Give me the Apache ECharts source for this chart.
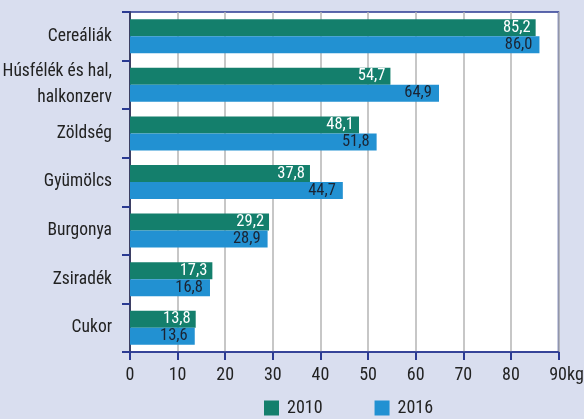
<!DOCTYPE html>
<html>
<head>
<meta charset="utf-8">
<script src="https://cdn.jsdelivr.net/npm/echarts@6/dist/echarts.min.js"></script>
<style>
  html, body { margin: 0; padding: 0; background: #d9deef; }
  #chart { width: 584px; height: 419px; }
</style>
</head>
<body>
<div id="chart"></div>
<script>
var categories = ['Cereáliák', 'Húsfélék és hal,\nhalkonzerv', 'Zöldség', 'Gyümölcs', 'Burgonya', 'Zsiradék', 'Cukor'];
var years = ['2010', '2016'];
var values2010 = [85.2, 54.7, 48.1, 37.8, 29.2, 17.3, 13.8];
var values2016 = [86.0, 64.9, 51.8, 44.7, 28.9, 16.8, 13.6];
var xTicks = [0, 10, 20, 30, 40, 50, 60, 70, 80, 90];

var font = "'Roboto Condensed', 'Liberation Sans Narrow', sans-serif";
var weight = 'normal';
var navy = '#2b3a92';

var myChart = echarts.init(document.getElementById('chart'));

function fmt(p) {
    return p.value.toFixed(1).replace('.', ',');
}

var option = {
    backgroundColor: '#d9deef',
    textStyle: { fontFamily: font, fontWeight: weight },
    grid: {
        left: 130,
        right: 25.5,
        top: 12,
        bottom: 67,
        outerBoundsMode: 'none',
        containLabel: false,
        show: true,
        backgroundColor: '#fff',
        borderColor: navy,
        borderWidth: 1.5
    },
    legend: {
        data: years,
        top: 394,
        left: 259,
        itemWidth: 15,
        itemHeight: 15,
        itemGap: 52,
        icon: 'rect',
        textStyle: { fontFamily: font, fontWeight: weight, fontSize: 18, color: '#222', padding: [0, 0, 0, 3] }
    },
    xAxis: {
        type: 'value',
        min: xTicks[0],
        max: xTicks[xTicks.length - 1],
        interval: 10,
        axisLine: { show: true, lineStyle: { color: navy, width: 1.5 } },
        axisTick: { show: true, length: 8, lineStyle: { color: navy, width: 2 } },
        splitLine: { show: true, lineStyle: { color: '#b5b5b5', width: 1.5 } },
        axisLabel: {
            margin: 14,
            fontFamily: font,
            fontWeight: weight,
            fontSize: 18,
            color: '#222',
            formatter: function (v) {
                if (v === 90) return '{s|}90kg';
                return String(v);
            },
            rich: { s: { width: 16 } }
        }
    },
    yAxis: {
        type: 'category',
        inverse: true,
        data: categories,
        axisLine: { show: true, lineStyle: { color: '#1c1f4a', width: 1.5 } },
        axisTick: { show: true, length: 8, lineStyle: { color: navy, width: 2 } },
        axisLabel: {
            margin: 18,
            fontFamily: font,
            fontWeight: weight,
            fontSize: 17.5,
            lineHeight: 26,
            color: '#222',
            align: 'right'
        }
    },
    series: [
        {
            name: years[0],
            type: 'bar',
            data: values2010,
            barWidth: 17,
            barGap: '0%',
            itemStyle: { color: '#147f6c' },
            label: {
                show: true,
                position: 'insideRight',
                distance: 5,
                color: '#fff',
                fontFamily: font,
                fontWeight: weight,
                fontSize: 16.5,
                formatter: fmt
            }
        },
        {
            name: years[1],
            type: 'bar',
            data: values2016,
            barWidth: 17,
            barGap: '0%',
            itemStyle: { color: '#2291d2' },
            label: {
                show: true,
                position: 'insideRight',
                distance: 7,
                color: '#1b2433',
                fontFamily: font,
                fontWeight: weight,
                fontSize: 16.5,
                formatter: fmt
            }
        }
    ]
};

myChart.setOption(option);
window.addEventListener('resize', function () {
    myChart.resize();
});
</script>
</body>
</html>
